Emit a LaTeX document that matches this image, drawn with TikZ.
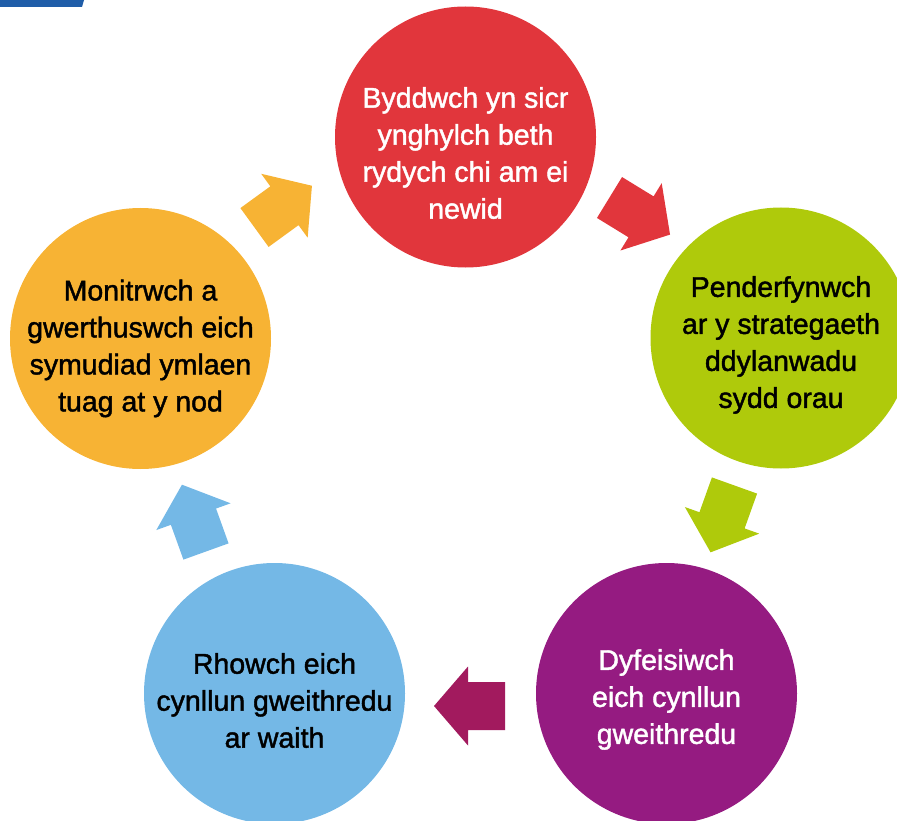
\documentclass[tikz,border=0pt]{standalone}
\usepackage{fontspec}
\setmainfont{Liberation Sans}
\newfontfamily\stagefont{Liberation Sans}[FakeBold=1.5]

\definecolor{cyclered}{HTML}{E1363C}
\definecolor{cyclegreen}{HTML}{AFCA0B}
\definecolor{cyclepurple}{HTML}{951B81}
\definecolor{cycleplum}{HTML}{A21A5E}
\definecolor{cycleblue}{HTML}{74B8E6}
\definecolor{cycleorange}{HTML}{F7B334}
\definecolor{topbar}{HTML}{1F5DA8}

\tikzset{
  stage/.style={circle, minimum size=261pt, inner sep=0pt},
  stagetext/.style={align=center, font=\stagefont\fontsize{28.5}{37}\selectfont},
  blockarrow/.pic={
    \fill (0,-24) -- (37,-24) -- (37,-39.5) -- (71,0) -- (37,39.5) -- (37,24) -- (0,24) -- cycle;
  }
}

\begin{document}
\begin{tikzpicture}[x=1pt, y=-1pt]
        \useasboundingbox (0,0) rectangle (897,821);
        \clip (0,0) rectangle (897,821);
        \fill[topbar] (0,0) -- (84,0) -- (82,7) -- (0,7) -- cycle;

        % the five stages
        \node[stage, fill=cyclered]    (byddwch)  at (465.5,137)   {};
        \node[stage, fill=cyclegreen]  (penderf)  at (781,338)     {};
        \node[stage, fill=cyclepurple] (dyfeis)   at (666.5,693.5) {};
        \node[stage, fill=cycleblue]   (rhowch)   at (274.5,693.5) {};
        \node[stage, fill=cycleorange] (monitr)   at (140.5,338.5) {};

        \node[stagetext, text=white] (byddwchtext) at ([yshift=-16pt]byddwch.center) {Byddwch yn sicr\\ynghylch beth\\rydych chi am ei\\newid};
        \node[stagetext] (penderftext) at ([yshift=-7pt]penderf.center) {Penderfynwch\\ar y strategaeth\\ddylanwadu\\sydd orau};
        \node[stagetext, text=white] (dyfeistext) at ([yshift=-6pt]dyfeis.center) {Dyfeisiwch\\eich cynllun\\gweithredu};
        \node[stagetext] (rhowchtext) at ([yshift=-7pt]rhowch.center) {Rhowch eich\\cynllun gweithredu\\ar waith};
        \node[stagetext] (monitrtext) at ([yshift=-10pt]monitr.center) {Monitrwch a\\gwerthuswch eich\\symudiad ymlaen\\tuag at y nod};

        % arrows between the stages
        \foreach \x/\y/\a/\c in {254.5/227.5/36/cycleorange, 609.5/197.5/-31.5/cyclered,
                734.5/485.5/-109.7/cyclegreen, 505/706/180/cycleplum, 206/551.5/109.8/cycleblue}
          \pic[rotate=\a, fill=\c] at (\x,\y) {blockarrow};
\end{tikzpicture}
\end{document}
